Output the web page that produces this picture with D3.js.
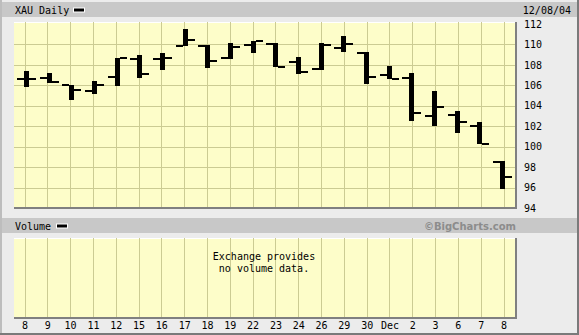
<!DOCTYPE html>
<html>
<head>
<meta charset="utf-8" />
<title>XAU Daily</title>
<script src="https://d3js.org/d3.v7.min.js"></script>
<style>
  body { margin: 0; background: #ececec; }
  text { font-family: "DejaVu Sans Mono", monospace; font-size: 10px; fill: #000; }
</style>
</head>
<body>
<div id="chart"></div>
<script>

// trading days, Nov 8 - Dec 8 2004
const days  = ["8","9","10","11","12","15","16","17","18","19","22","23","24","26","29","30","Dec","2","3","6","7","8"];
const open  = [106.6,106.7,106.04,105.42,106.79,108.55,108.55,109.82,109.82,108.65,109.92,110.02,108.25,107.6,109.65,109.17,107.01,106.69,102.98,103.1,102.03,98.48];
const high  = [107.4,107.2,106.04,106.43,108.65,108.97,109.17,111.5,109.95,110.14,110.31,110.14,108.77,110.14,110.83,109.26,107.9,107.21,105.45,103.5,102.42,98.64];
const low   = [105.87,106.26,104.6,105.19,105.87,106.75,107.53,109.82,107.73,108.61,109.1,107.77,107.11,107.53,109.29,106.17,106.65,102.55,102.06,101.38,100.24,95.9];
const close = [106.6,106.3,105.5,106.04,108.65,107.08,108.68,110.4,108.35,109.72,110.31,107.77,107.28,109.92,110.02,106.82,106.65,103.3,103.86,102.39,100.24,97.01];
const priceTicks = [94,96,98,100,102,104,106,108,110,112];

const W = 579, H = 335;
const price = {left: 14, right: 516, top: 22, bottom: 208};
const vol = {left: 14, right: 516, top: 238, bottom: 318};

const idx = d3.range(days.length);
const data = idx.map(i => ({i: i, o: open[i], h: high[i], l: low[i], c: close[i]}));

const svg = d3.select("#chart").append("svg")
    .attr("width", W).attr("height", H);

// frame
svg.append("rect").attr("width", W).attr("height", H).attr("fill", "#ececec");
svg.append("rect").attr("x", 0).attr("y", 0).attr("width", 2).attr("height", H).attr("fill", "#bdbdbd");
svg.append("rect").attr("x", W - 2).attr("y", 0).attr("width", 2).attr("height", H).attr("fill", "#7a7a7a");
svg.append("rect").attr("x", 0).attr("y", H - 2).attr("width", W).attr("height", 2).attr("fill", "#7a7a7a");

// header bars
svg.append("rect").attr("x", 2).attr("y", 2).attr("width", W - 4).attr("height", 15).attr("fill", "#c8c8c8");
svg.append("rect").attr("x", 2).attr("y", 218).attr("width", W - 4).attr("height", 15).attr("fill", "#c8c8c8");

svg.append("text").attr("x", 15).attr("y", 13.5).text("XAU Daily");
svg.append("text").attr("x", 571).attr("y", 13.5).attr("text-anchor", "end").text("12/08/04");
svg.append("text").attr("x", 15).attr("y", 229.5).text("Volume");
svg.append("text").attr("x", 516).attr("y", 229.5).attr("text-anchor", "end")
    .style("font-family", "'DejaVu Sans', sans-serif").style("font-weight", "bold")
    .style("fill", "#8c8c8c").text("\u00a9BigCharts.com");

function legend(x, y) {
    svg.append("rect").attr("x", x).attr("y", y).attr("width", 12).attr("height", 5).attr("fill", "#fff");
    svg.append("rect").attr("x", x + 1).attr("y", y + 1).attr("width", 10).attr("height", 3).attr("fill", "#000");
}
legend(73, 7.5);
legend(56, 223.5);

// scales
const xGrid = d3.scalePoint().domain(idx).range([24.5, 503.5]);
const xBar = d3.scalePoint().domain(idx).range([26.5, 502.5]);
const y = d3.scaleLinear().domain([94, 112]).range([price.bottom, price.top + 2]);

function panel(p) {
    svg.append("rect").attr("x", p.left).attr("y", p.top)
        .attr("width", p.right - p.left).attr("height", p.bottom - p.top)
        .attr("fill", "#fdfdc9");
    svg.append("line").attr("x1", p.left).attr("x2", p.right).attr("y1", p.top + 0.5).attr("y2", p.top + 0.5)
        .attr("stroke", "#fff");
    svg.append("g").selectAll("line").data(idx).join("line")
        .attr("x1", d => Math.round(xGrid(d)) + 0.5).attr("x2", d => Math.round(xGrid(d)) + 0.5)
        .attr("y1", p.top).attr("y2", p.bottom)
        .attr("stroke", "#cbcb93");
}
function panelEdge(p) {
    svg.append("rect").attr("x", p.right - 1).attr("y", p.top).attr("width", 2).attr("height", p.bottom - p.top + 1).attr("fill", "#808080");
    svg.append("rect").attr("x", p.left).attr("y", p.bottom - 1).attr("width", p.right - p.left + 1).attr("height", 2).attr("fill", "#808080");
}

panel(price);
svg.append("g").selectAll("line").data(priceTicks.slice(1, -1)).join("line")
    .attr("x1", price.left).attr("x2", price.right)
    .attr("y1", d => Math.round(y(d)) + 0.5).attr("y2", d => Math.round(y(d)) + 0.5)
    .attr("stroke", "#cbcb93");

// price axis on the right
const yAxis = svg.append("g")
    .attr("transform", `translate(${price.right + 8},0)`)
    .call(d3.axisRight(y).tickValues(priceTicks).tickSize(0).tickPadding(0));
yAxis.select(".domain").remove();
yAxis.selectAll("text").style("font-family", "'DejaVu Sans Mono', monospace").style("font-size", "10px");

// OHLC bars
const bars = svg.append("g").selectAll("g").data(data).join("g");
bars.append("rect")
    .attr("x", d => Math.round(xBar(d.i) - 2.5))
    .attr("y", d => Math.round(y(d.h)))
    .attr("width", 5)
    .attr("height", d => Math.max(2, Math.round(y(d.l) - y(d.h))))
    .attr("fill", "#000");
bars.append("rect")
    .attr("x", d => Math.round(xBar(d.i) - 2.5) - 7)
    .attr("y", d => Math.round(y(d.o)) - 1)
    .attr("width", 7).attr("height", 2)
    .attr("fill", "#000");
bars.append("rect")
    .attr("x", d => Math.round(xBar(d.i) - 2.5) + 5)
    .attr("y", d => Math.round(y(d.c)) - 1)
    .attr("width", 7).attr("height", 2)
    .attr("fill", "#000");

panelEdge(price);

// volume panel
panel(vol);
svg.append("text").attr("x", 264).attr("y", 260).attr("text-anchor", "middle").text("Exchange provides");
svg.append("text").attr("x", 264).attr("y", 272).attr("text-anchor", "middle").text("no volume data.");
panelEdge(vol);

// date axis
const xAxis = svg.append("g")
    .attr("transform", `translate(0,${vol.bottom + 2})`)
    .call(d3.axisBottom(xGrid).tickSize(0).tickPadding(2).tickFormat(i => days[i]));
xAxis.select(".domain").remove();
xAxis.selectAll("text").style("font-family", "'DejaVu Sans Mono', monospace").style("font-size", "10px");

</script>
</body>
</html>
